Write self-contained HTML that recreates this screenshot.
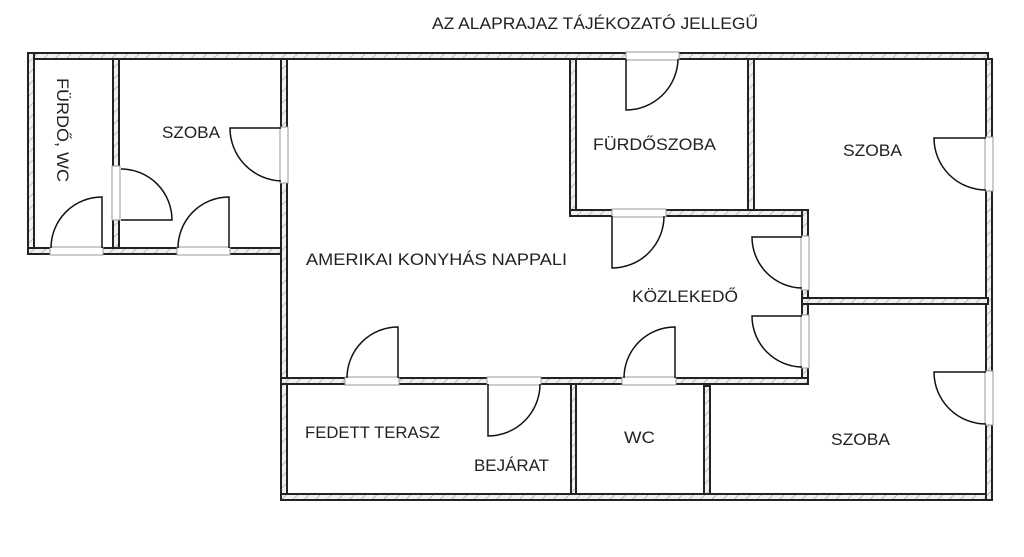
<!DOCTYPE html>
<html><head><meta charset="utf-8"><style>
html,body{margin:0;padding:0;background:#fff;}
svg{display:block;}
text{font-family:"Liberation Sans",sans-serif;font-size:17px;fill:#222;}
</style></head><body>
<svg width="1024" height="557" viewBox="0 0 1024 557" xmlns="http://www.w3.org/2000/svg">
<defs>
<pattern id="h" width="8" height="8" patternUnits="userSpaceOnUse" patternTransform="rotate(45)">
<rect width="8" height="8" fill="#f0f0f0"/><line x1="0" y1="0" x2="0" y2="8" stroke="#999" stroke-width="1.2"/>
</pattern>
</defs>
<g fill="url(#h)" stroke="#222" stroke-width="2">
<rect x="28" y="53" width="960" height="6"/>
<rect x="28" y="53" width="6" height="201"/>
<rect x="28" y="248" width="259" height="6"/>
<rect x="113" y="59" width="6" height="189"/>
<rect x="281" y="59" width="6" height="441"/>
<rect x="281" y="494" width="710" height="6"/>
<rect x="986" y="59" width="6" height="441"/>
<rect x="570" y="59" width="6" height="157"/>
<rect x="748" y="59" width="6" height="157"/>
<rect x="570" y="210" width="238" height="6"/>
<rect x="802" y="210" width="6" height="174"/>
<rect x="802" y="298" width="186" height="6"/>
<rect x="281" y="378" width="527" height="6"/>
<rect x="571" y="384" width="5" height="110"/>
<rect x="704" y="386" width="6" height="108"/>
</g>
<!-- door openings -->
<g fill="#fff" stroke="#999" stroke-width="1">
<rect x="50" y="247" width="53" height="8"/>
<rect x="112" y="166" width="8" height="54"/>
<rect x="177" y="247" width="53" height="8"/>
<rect x="280" y="127" width="8" height="56"/>
<rect x="626" y="52" width="53" height="8"/>
<rect x="612" y="209" width="54" height="8"/>
<rect x="801" y="236" width="8" height="54"/>
<rect x="801" y="315" width="8" height="53"/>
<rect x="622" y="377" width="54" height="8"/>
<rect x="345" y="377" width="54" height="8"/>
<rect x="487" y="377" width="54" height="8"/>
<rect x="985" y="137" width="8" height="54"/>
<rect x="985" y="371" width="8" height="54"/>
</g>
<g fill="none" stroke="#111" stroke-width="1.5">
<path d="M102 248 V197 A51 51 0 0 0 51 248"/>
<path d="M121 220 H172 A51 51 0 0 0 121 169"/>
<path d="M229 248 V197 A51 51 0 0 0 178 248"/>
<path d="M281 128 H230 A53 53 0 0 0 281 181"/>
<path d="M626 59 V110 A52 52 0 0 0 678 59"/>
<path d="M612 216 V268 A52 52 0 0 0 664 216"/>
<path d="M802 237 H752 A51 51 0 0 0 802 288"/>
<path d="M802 316 H752 A51 51 0 0 0 802 367"/>
<path d="M675 378 V327 A51 51 0 0 0 624 378"/>
<path d="M398 378 V327 A51 51 0 0 0 347 378"/>
<path d="M488 384 V436 A52 52 0 0 0 540 384"/>
<path d="M986 138 H934 A52 52 0 0 0 986 190"/>
<path d="M986 372 H934 A52 52 0 0 0 986 424"/>
</g>
<text x="432" y="29" textLength="326" lengthAdjust="spacingAndGlyphs">AZ ALAPRAJAZ TÁJÉKOZATÓ JELLEGŰ</text>
<text transform="translate(57,78) rotate(90)" textLength="104" lengthAdjust="spacingAndGlyphs">FÜRDŐ, WC</text>
<text x="162" y="138" textLength="58" lengthAdjust="spacingAndGlyphs">SZOBA</text>
<text x="306" y="265" textLength="261" lengthAdjust="spacingAndGlyphs">AMERIKAI KONYHÁS NAPPALI</text>
<text x="593" y="150" textLength="123" lengthAdjust="spacingAndGlyphs">FÜRDŐSZOBA</text>
<text x="843" y="156" textLength="59" lengthAdjust="spacingAndGlyphs">SZOBA</text>
<text x="632" y="302" textLength="106" lengthAdjust="spacingAndGlyphs">KÖZLEKEDŐ</text>
<text x="305" y="438" textLength="135" lengthAdjust="spacingAndGlyphs">FEDETT TERASZ</text>
<text x="474" y="471" textLength="75" lengthAdjust="spacingAndGlyphs">BEJÁRAT</text>
<text x="624" y="443" textLength="31" lengthAdjust="spacingAndGlyphs">WC</text>
<text x="831" y="445" textLength="59" lengthAdjust="spacingAndGlyphs">SZOBA</text>
</svg>
</body></html>
